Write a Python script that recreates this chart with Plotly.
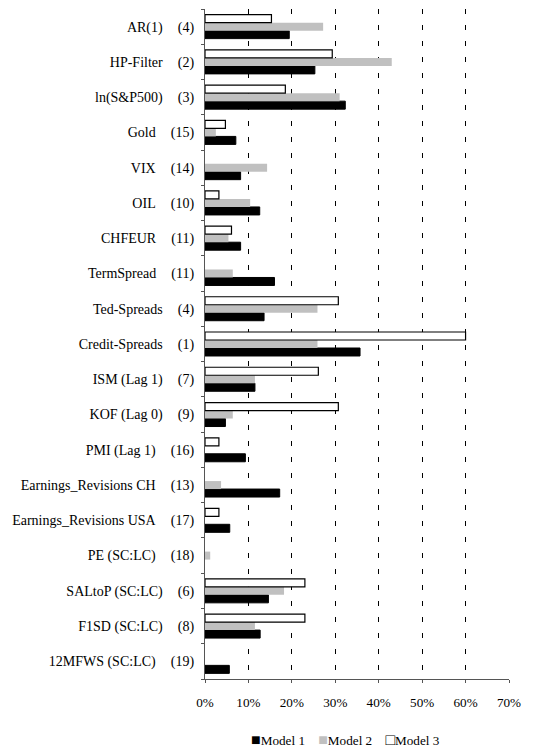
import plotly.graph_objects as go

names = ["AR(1)", "HP-Filter", "ln(S&P500)", "Gold", "VIX", "OIL", "CHFEUR",
         "TermSpread", "Ted-Spreads", "Credit-Spreads", "ISM (Lag 1)",
         "KOF (Lag 0)", "PMI (Lag 1)", "Earnings_Revisions CH",
         "Earnings_Revisions USA", "PE (SC:LC)", "SALtoP (SC:LC)",
         "F1SD (SC:LC)", "12MFWS (SC:LC)"]
ranks = [4, 2, 3, 15, 14, 10, 11, 11, 4, 1, 7, 9, 16, 13, 17, 18, 6, 8, 19]

# None = no bar in the picture
model1 = [19.4, 25.3, 32.3, 7.1, 8.2, 12.6, 8.2, 16.0, 13.6, 35.7, 11.5, 4.7,
          9.3, 17.2, 5.7, None, 14.6, 12.7, 5.6]
model2 = [27.2, 43.0, 31.0, 2.5, 14.3, 10.4, 5.4, 6.4, 25.9, 25.9, 11.5, 6.4,
          None, 3.7, None, 1.2, 18.2, 11.5, None]
model3 = [15.3, 29.3, 18.5, 4.7, None, 3.2, 6.1, None, 30.7, 60.0, 26.1, 30.7,
          3.2, None, 3.2, None, 23.0, 23.0, None]

labels = [f"{n}\u00a0\u00a0\u00a0\u00a0\u200a({r})" for n, r in zip(names, ranks)]
x_ticks = [0, 10, 20, 30, 40, 50, 60, 70]

serif = "Liberation Serif"
font = dict(family=serif, size=13.2, color="black")


def pct(vals):
    return [None if v is None else v / 100 for v in vals]


fig = go.Figure()
fig.add_trace(go.Bar(y=labels, x=pct(model1), name="Model 1", orientation="h",
                     marker=dict(color="black", line=dict(color="black", width=1))))
fig.add_trace(go.Bar(y=labels, x=pct(model2), name="Model 2", orientation="h",
                     marker=dict(color="#c0c0c0", line=dict(width=0))))
fig.add_trace(go.Bar(y=labels, x=pct(model3), name="Model 3", orientation="h",
                     marker=dict(color="white", line=dict(color="black", width=1.2))))

# compact legend line as in the original
sq = "<span style='font-size:16px;color:{}'>{}</span>"
gap = "\u00a0\u00a0\u00a0 "
legend_text = (sq.format("black", "\u25a0") + "Model 1" + gap
               + sq.format("#c0c0c0", "\u25a0") + "Model 2" + gap
               + sq.format("black", "\u25a1") + "Model 3")

# page body adds 8px at top/left, margins are set to offset that
fig.update_layout(
    width=536, height=749,
    margin=dict(l=197, r=35, t=1, b=78),
    paper_bgcolor="white", plot_bgcolor="white",
    font=font,
    barmode="group", bargap=0.32, bargroupgap=0,
    showlegend=False,
    annotations=[dict(text=legend_text, xref="paper", yref="paper",
                      x=0.145, y=-0.091, xanchor="left", yanchor="middle",
                      showarrow=False, font=font)],
)
fig.update_xaxes(
    range=[0, 0.7], tickvals=[t / 100 for t in x_ticks],
    ticktext=[f"{t}%" for t in x_ticks],
    showgrid=True, gridcolor="black", griddash="5px,11px", gridwidth=1,
    showline=True, linecolor="#555", linewidth=1,
    ticks="outside", ticklen=3, tickcolor="#555",
    zeroline=False, ticklabelstandoff=8,
)
fig.update_yaxes(
    type="category", categoryorder="array", categoryarray=labels[::-1],
    tickfont=dict(family=serif, size=14, color="black"),
    showline=True, linecolor="#555", linewidth=1,
    ticks="outside", ticklen=3, tickcolor="#555", tickson="boundaries",
    showgrid=False, ticklabelstandoff=7,
)

fig.write_html("out.html")
